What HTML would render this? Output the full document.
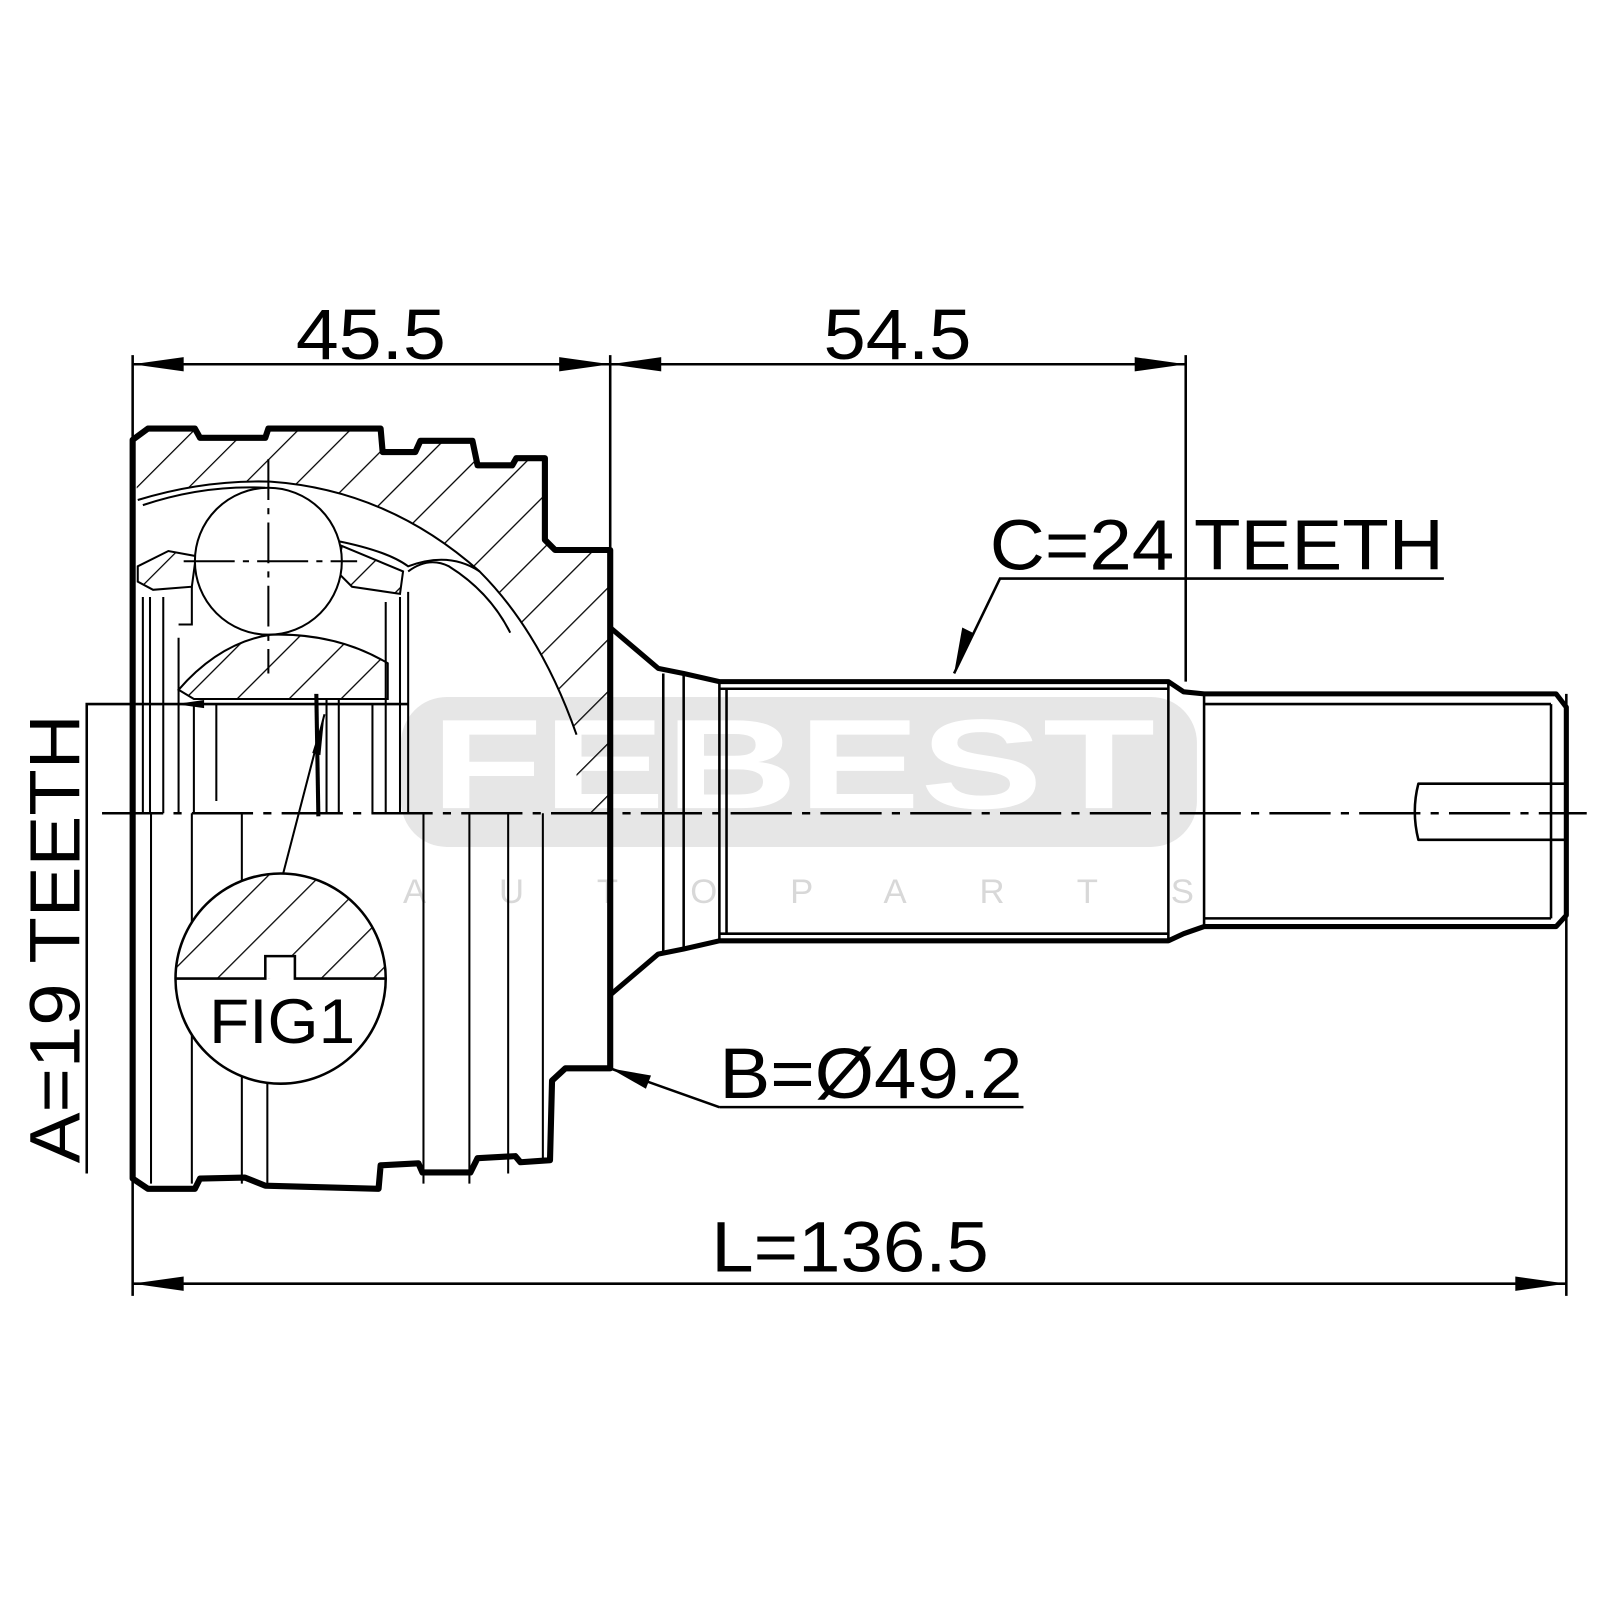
<!DOCTYPE html>
<html><head><meta charset="utf-8"><style>
html,body{margin:0;padding:0;background:#fff;}
svg{display:block}
text{font-family:"Liberation Sans",Arial,sans-serif;fill:#000}
</style></head><body>
<svg width="1600" height="1600" viewBox="0 0 1568 1568" xmlns="http://www.w3.org/2000/svg">
<defs>
<pattern id="h" patternUnits="userSpaceOnUse" width="36" height="36" patternTransform="rotate(45)">
<line x1="0" y1="0" x2="0" y2="36" stroke="#000" stroke-width="2.5"/>
</pattern>
<clipPath id="figtop"><rect x="150" y="840" width="260" height="119"/></clipPath>
</defs>

<!-- watermark -->
<rect x="393" y="683" width="780" height="147" rx="45" fill="#e6e6e6"/>
<text x="422" y="792" font-size="125" font-weight="bold" style="fill:#fff" textLength="710" lengthAdjust="spacingAndGlyphs">FEBEST</text>
<text x="395" y="885" font-size="34" style="fill:#d8d8d8" textLength="775" lengthAdjust="spacing">AUTOPARTS</text>

<!-- hatched housing top -->
<path d="M135,490 Q200,470 265,472 Q380,480 470,560 Q530,620 565,720 L565,797 L598,797 L598,539 L544,539 L534,529 L534,449 L506,449 L502,456 L468,456 L463,432 L412,432 L407,443 L375,443 L373,420 L263,420 L260,429 L196,429 L191,420 L145,420 L130,431 Z" fill="url(#h)"/>
<path d="M135,490 Q200,470 265,472 Q380,480 470,560 Q530,620 565,720" fill="none" stroke="#000" stroke-width="2"/>
<path d="M140,495 Q200,475 260,478" fill="none" stroke="#000" stroke-width="2"/>
<path d="M330,530 Q380,540 400,555 Q440,540 470,560" fill="none" stroke="#000" stroke-width="2"/>
<path d="M135,555 L165,540 L192,545 L188,575 L150,578 L135,570 Z" fill="url(#h)" stroke="#000" stroke-width="2"/>
<path d="M335,535 L395,560 L392,582 L345,575 L330,560 Z" fill="url(#h)" stroke="#000" stroke-width="2"/>
<path d="M175,676 Q215,630 265,622 Q330,620 380,650 L380,685 L190,685 Z" fill="url(#h)" stroke="#000" stroke-width="2"/>
<circle cx="263" cy="550" r="72" fill="#fff" stroke="#000" stroke-width="2"/>
<line x1="263" y1="450" x2="263" y2="660" stroke="#000" stroke-width="2" stroke-dasharray="40,8,6,8"/>
<line x1="180" y1="550" x2="350" y2="550" stroke="#000" stroke-width="2" stroke-dasharray="50,8,6,8"/>
<g stroke="#000" stroke-width="2" fill="none">
<path d="M140,585 L140,797 M147,585 L147,797 M160,585 L160,797 M175,625 L175,797 M188,575 L188,612 L175,612"/>
<path d="M190,690 L190,797 M212,690 L212,785 M320,685 L320,797 M332,685 L332,797 M365,690 L365,797 M378,590 L378,797 M392,585 L392,797 M400,580 L400,797"/>
<path d="M400,560 Q420,545 440,555 Q480,580 500,620"/>
<path d="M148,797 L148,1160 M188,797 L188,1160 M237,797 L237,1160 M262,1050 L262,1160 M415,797 L415,1160 M460,797 L460,1160 M498,797 L498,1150 M532,797 L532,1140"/>
</g>
<path d="M130,431 L145,420 L191,420 L196,429 L260,429 L263,420 L373,420 L375,443 L407,443 L412,432 L463,432 L468,456 L502,456 L506,449 L534,449 L534,529 L544,539 L598,539 L598,1047 L554,1047 L541,1059 L539,1137 L510,1139 L505,1133 L468,1135 L461,1149 L414,1149 L410,1140 L373,1142 L371,1165 L260,1162 L240,1154 L196,1155 L191,1165 L145,1165 L130,1155 Z" fill="none" stroke="#000" stroke-width="6" stroke-linejoin="round"/>
<path d="M85,1150 L85,690 L400,690" fill="none" stroke="#000" stroke-width="2.5"/>
<path d="M172,690 L200,686 L200,694 Z" fill="#000"/>
<line x1="310" y1="680" x2="312" y2="800" stroke="#000" stroke-width="4"/>
<line x1="318" y1="700" x2="277" y2="858" stroke="#000" stroke-width="2"/>
<path d="M318,700 L306,738 L314,740 Z" fill="#000"/>

<circle cx="275" cy="959" r="103" fill="#fff" stroke="#000" stroke-width="2.5"/>
<g clip-path="url(#figtop)"><circle cx="275" cy="959" r="102" fill="url(#h)"/></g>
<path d="M172,959 L260,959 L260,937 L289,937 L289,959 L378,959" fill="#fff" stroke="#000" stroke-width="2.5"/>
<rect x="262" y="939" width="25" height="19" fill="#fff"/>
<text x="205" y="1022" font-size="62" textLength="143" lengthAdjust="spacingAndGlyphs">FIG1</text>

<g fill="none" stroke="#000" stroke-linejoin="round">
<path d="M598,615 L645,655 L670,660 L705,668 L1145,668 L1160,678 L1180,680 L1525,680 L1535,693 L1535,897 L1525,908 L1180,908 L1160,915 L1145,922 L705,922 L670,930 L645,935 L598,975" stroke-width="5"/>
<path d="M650,660 L650,935 M670,660 L670,930 M705,668 L705,922 M712,675 L712,915 M1145,668 L1145,922 M1180,680 L1180,908 M1520,690 L1520,900" stroke-width="2.5"/>
<path d="M705,675 L1145,675 M705,915 L1145,915 M1180,690 L1520,690 M1180,900 L1520,900" stroke-width="2.5"/>
<path d="M1535,768 L1390,768 Q1383,795 1390,823 L1535,823" stroke-width="2.5"/>
</g>
<line x1="100" y1="797" x2="1555" y2="797" stroke="#000" stroke-width="2.5" stroke-dasharray="60,10,8,10"/>

<g stroke="#000" stroke-width="2.5" fill="none">
<path d="M130,348 L130,1270 M598,348 L598,539 M1162,348 L1162,668 M1535,680 L1535,1270"/>
<path d="M130,357 L598,357 M598,357 L1162,357 M130,1258 L1535,1258"/>
<path d="M980,567 L1415,567 L980,567 L935,660 M705,1085 L1003,1085 M705,1085 L598,1047"/>
</g>
<g fill="#000">
<path d="M130,357 L180,350 L180,364 Z M598,357 L548,350 L548,364 Z M598,357 L648,350 L648,364 Z M1162,357 L1112,350 L1112,364 Z M130,1258 L180,1251 L180,1265 Z M1535,1258 L1485,1251 L1485,1265 Z"/>
<path d="M935,660 L943,615 L955,621 Z M598,1047 L638,1054 L633,1067 Z"/>
</g>
<text x="290" y="352" font-size="70" textLength="147" lengthAdjust="spacingAndGlyphs">45.5</text>
<text x="807" y="352" font-size="70" textLength="145" lengthAdjust="spacingAndGlyphs">54.5</text>
<text x="697" y="1246" font-size="70" textLength="272" lengthAdjust="spacingAndGlyphs">L=136.5</text>
<text x="970" y="558" font-size="70" textLength="445" lengthAdjust="spacingAndGlyphs">C=24 TEETH</text>
<text x="705" y="1076" font-size="70" textLength="297" lengthAdjust="spacingAndGlyphs">B=Ø49.2</text>
<text transform="translate(78,1140) rotate(-90)" font-size="70" textLength="440" lengthAdjust="spacingAndGlyphs">A=19 TEETH</text>
</svg>
</body></html>
